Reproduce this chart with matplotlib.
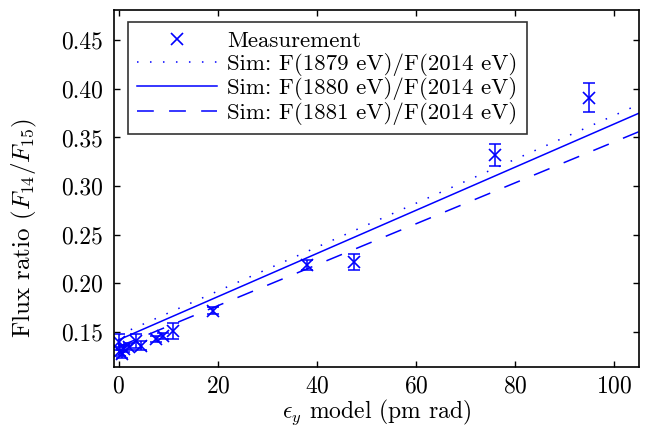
import numpy as np
import matplotlib
matplotlib.use('Agg')
import matplotlib.pyplot as plt

plt.rcParams['font.family'] = 'serif'
plt.rcParams['font.serif'] = ['cmr10', 'DejaVu Serif']
plt.rcParams['mathtext.fontset'] = 'cm'
plt.rcParams['axes.formatter.use_mathtext'] = True

# measured flux ratio vs model emittance
eps_meas = [0.0, 0.3, 0.6, 1.0, 2.0, 3.5, 4.5, 7.5, 9.0, 11.0, 19.0, 38.0, 47.5, 76.0, 95.0]
ratio_meas = [0.140, 0.130, 0.127, 0.133, 0.135, 0.141, 0.136, 0.143, 0.146, 0.151, 0.172, 0.219, 0.222, 0.332, 0.391]
ratio_err = [0.008, 0.005, 0.004, 0.004, 0.004, 0.007, 0.005, 0.003, 0.003, 0.008, 0.004, 0.005, 0.008, 0.011, 0.015]

# simulated ratios
eps_sim = [0.0, 105.0]
sim_1879 = [0.147, 0.384]
sim_1880 = [0.142, 0.375]
sim_1881 = [0.135, 0.356]

blue = (0, 0, 1)

fig = plt.figure(figsize=(6.51, 4.28), dpi=100)
ax = fig.add_axes([0.175, 0.1425, 0.8066, 0.834])

ax.plot(eps_meas, ratio_meas, 'x', color=blue, markersize=8, markeredgewidth=1.2, label='Measurement')
ax.errorbar(eps_meas, ratio_meas, yerr=ratio_err, fmt='none', ecolor=blue, elinewidth=1.1, capsize=4.5, capthick=1.1)
ax.plot(eps_sim, sim_1879, color=blue, lw=1.1, linestyle=(0, (1, 7.5)), label='Sim: F(1879 eV)/F(2014 eV)')
ax.plot(eps_sim, sim_1880, color=blue, lw=1.1, linestyle='-', label='Sim: F(1880 eV)/F(2014 eV)')
ax.plot(eps_sim, sim_1881, color=blue, lw=1.1, linestyle=(0, (11, 10)), label='Sim: F(1881 eV)/F(2014 eV)')

ax.set_xlim(-1, 105)
ax.set_ylim(0.114, 0.481)
ax.set_xticks([0, 20, 40, 60, 80, 100])
ax.set_yticks([0.15, 0.20, 0.25, 0.30, 0.35, 0.40, 0.45])
ax.set_yticklabels(['%.2f' % v for v in [0.15, 0.20, 0.25, 0.30, 0.35, 0.40, 0.45]])
ax.tick_params(direction='in', top=True, right=True, labelsize=17, length=4, width=1)
ax.tick_params(axis='x', pad=6)
ax.tick_params(axis='y', pad=8)
for s in ax.spines.values():
    s.set_linewidth(1.2)

ax.set_xlabel(r'$\epsilon_y$ model (pm rad)', fontsize=17, labelpad=0)
ax.set_ylabel(r'Flux ratio ($F_{14}/F_{15}$)', fontsize=18)
ax.yaxis.set_label_coords(-0.142, 0.39)

leg = ax.legend(loc='upper left', fontsize=16.5, frameon=True, fancybox=False, edgecolor='black',
                handlelength=3.5, handletextpad=0.45, labelspacing=0.06, borderpad=0.4,
                borderaxespad=0.0, bbox_to_anchor=(0.026, 0.966))
leg.get_frame().set_linewidth(1.2)

plt.savefig('out.png', dpi=100)
